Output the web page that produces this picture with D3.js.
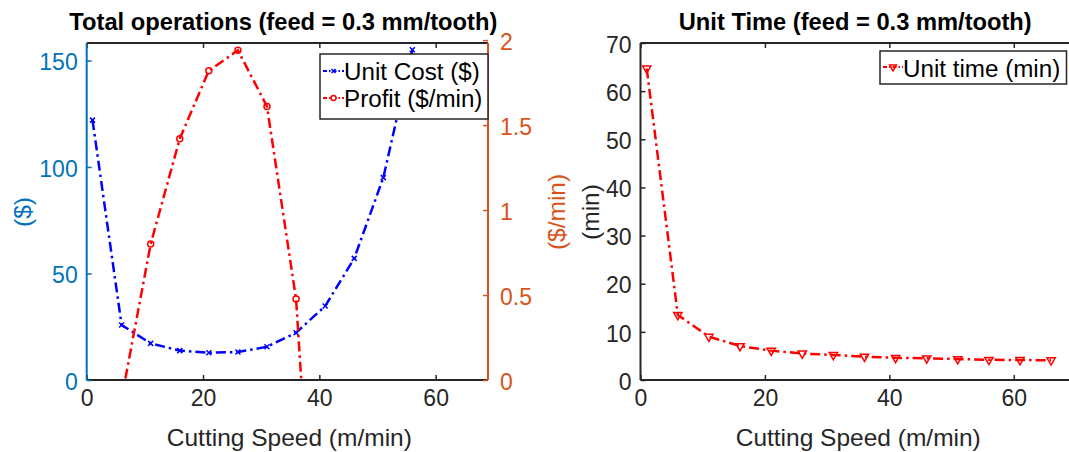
<!DOCTYPE html>
<html><head><meta charset="utf-8">
<script src="https://cdn.jsdelivr.net/npm/d3@7"></script>
<style>
body{margin:0;background:#fff;}
text{font-family:"Liberation Sans",Arial,sans-serif;}
</style></head>
<body>
<svg id="c" width="1069" height="452"></svg>
<script>
// ---------- data ----------
const costSpeed = [1, 6, 11, 16, 21, 26, 31, 36, 41, 46, 51, 56];
const unitCost  = [122, 25.8, 17.2, 13.8, 12.8, 13.1, 15.6, 22.2, 34.7, 57.1, 95, 155];
const profitSpeed = [6, 11, 16, 21, 26, 31, 36, 41];
const profit      = [-0.11, 0.80, 1.42, 1.82, 1.94, 1.61, 0.476, -2.2];
const timeSpeed = [1, 6, 11, 16, 21, 26, 31, 36, 41, 46, 51, 56, 61, 66];
const unitTime  = [64.7, 13.5, 9.0, 7.05, 6.1, 5.5, 5.2, 4.85, 4.6, 4.5, 4.35, 4.2, 4.15, 4.1];
const xTicks = [0, 20, 40, 60];
const costTicks = [0, 50, 100, 150];
const profitTicks = [0, 0.5, 1, 1.5, 2];
const profitTickLabels = ["0", "0.5", "1", "1.5", "2"];
const timeTicks = [0, 10, 20, 30, 40, 50, 60, 70];
const title1 = "Total operations (feed = 0.3 mm/tooth)";
const title2 = "Unit Time (feed = 0.3 mm/tooth)";
const xLabel = "Cutting Speed (m/min)";

// ---------- style ----------
const BLUEAX = "#0072BD", ORANGE = "#D95319", DARK = "#262626";
const TICKFS = 23, LABFS = 24.5, TITLEFS = 23.7, LEGFS = 24.2;
const DASH = "10,4,2.5,4";

const svg = d3.select("#c");
const defs = svg.append("defs");

// ---------- panel 1 ----------
const L1 = {x0: 86.7, x1: 488, y0: 43, y1: 380};
const x1s = d3.scaleLinear().domain([0, 69]).range([L1.x0, L1.x1]);
const yC = d3.scaleLinear().domain([0, 158.2]).range([L1.y1, L1.y0]);
const yP = d3.scaleLinear().domain([0, 1.983]).range([L1.y1, L1.y0]);

defs.append("clipPath").attr("id", "clip1").append("rect")
  .attr("x", L1.x0).attr("y", L1.y0).attr("width", L1.x1 - L1.x0).attr("height", L1.y1 - L1.y0);

const g1 = svg.append("g");
const bx1 = g1.append("g").attr("transform", `translate(0,${L1.y1})`)
  .call(d3.axisBottom(x1s).tickValues(xTicks).tickSize(-5).tickPadding(10));
const tx1 = g1.append("g").attr("transform", `translate(0,${L1.y0})`)
  .call(d3.axisTop(x1s).tickValues(xTicks).tickSize(-5).tickFormat(""));
const ly1 = g1.append("g").attr("transform", `translate(${L1.x0},0)`)
  .call(d3.axisLeft(yC).tickValues(costTicks).tickSize(-5).tickPadding(9));
const ry1 = g1.append("g").attr("transform", `translate(${L1.x1},0)`)
  .call(d3.axisRight(yP).tickValues(profitTicks).tickSize(-5).tickPadding(12)
    .tickFormat((d, i) => profitTickLabels[i]));

[bx1, tx1].forEach(a => { a.select(".domain").attr("stroke", DARK).attr("stroke-width", 2); a.selectAll(".tick line").attr("stroke", DARK).attr("stroke-width", 1.5); });
bx1.selectAll("text").attr("fill", DARK).attr("font-size", TICKFS);
ly1.select(".domain").attr("stroke", BLUEAX).attr("stroke-width", 2).attr("d", `M0,${L1.y0}V${L1.y1}`);
ly1.selectAll(".tick line").attr("stroke", BLUEAX).attr("stroke-width", 1.5);
ly1.selectAll("text").attr("fill", BLUEAX).attr("font-size", TICKFS).attr("dy", "0.4em");
ry1.select(".domain").attr("stroke", ORANGE).attr("stroke-width", 2).attr("d", `M0,${L1.y0}V${L1.y1}`);
ry1.selectAll(".tick line").attr("stroke", ORANGE).attr("stroke-width", 1.5);
ry1.selectAll("text").attr("fill", ORANGE).attr("font-size", TICKFS).attr("dy", "0.4em");
bx1.select(".domain").attr("d", `M${L1.x0},0H${L1.x1}`);
tx1.select(".domain").attr("d", `M${L1.x0},0H${L1.x1}`);

const pl = g1.append("g").attr("clip-path", "url(#clip1)");
const costLine = d3.line().x((d, i) => x1s(costSpeed[i])).y(d => yC(d));
pl.append("path").datum(unitCost).attr("d", costLine).attr("fill", "none")
  .attr("stroke", "#0000FF").attr("stroke-width", 2.5).attr("stroke-dasharray", DASH);
const xMark = (sel, s) => sel.append("path").attr("d", `M${-s},${-s}L${s},${s}M${-s},${s}L${s},${-s}`)
  .attr("stroke", "#0000FF").attr("stroke-width", 1.5).attr("fill", "none");
unitCost.forEach((v, i) => {
  const g = pl.append("g").attr("transform", `translate(${x1s(costSpeed[i])},${yC(v)})`);
  xMark(g, 2.5);
});
const profLine = d3.line().x((d, i) => x1s(profitSpeed[i])).y(d => yP(d));
pl.append("path").datum(profit).attr("d", profLine).attr("fill", "none")
  .attr("stroke", "#FF0000").attr("stroke-width", 2.5).attr("stroke-dasharray", DASH);
profit.forEach((v, i) => {
  pl.append("circle").attr("cx", x1s(profitSpeed[i])).attr("cy", yP(v)).attr("r", 3)
    .attr("fill", "none").attr("stroke", "#FF0000").attr("stroke-width", 1.5);
});

svg.append("text").attr("x", (L1.x0 + L1.x1) / 2 - 4).attr("y", 30).attr("text-anchor", "middle")
  .attr("font-size", TITLEFS).attr("font-weight", "bold").attr("fill", "#000").text(title1);
svg.append("text").attr("x", (L1.x0 + L1.x1) / 2 + 2).attr("y", 446).attr("text-anchor", "middle")
  .attr("font-size", LABFS).attr("fill", DARK).text(xLabel);
svg.append("text").attr("transform", `translate(31,212) rotate(-90)`).attr("text-anchor", "middle")
  .attr("font-size", LABFS).attr("fill", BLUEAX).text("($)");
svg.append("text").attr("transform", `translate(565,212) rotate(-90)`).attr("text-anchor", "middle")
  .attr("font-size", LABFS).attr("fill", ORANGE).text("($/min)");

const lg1 = svg.append("g");
lg1.append("rect").attr("x", 320).attr("y", 54).attr("width", 168).attr("height", 65)
  .attr("fill", "#fff").attr("stroke", DARK).attr("stroke-width", 1.5);
lg1.append("line").attr("x1", 323).attr("x2", 344).attr("y1", 71).attr("y2", 71)
  .attr("stroke", "#0000FF").attr("stroke-width", 2).attr("stroke-dasharray", "4,2,1.5,2");
xMark(lg1.append("g").attr("transform", "translate(333.5,71)"), 2);
lg1.append("text").attr("x", 344).attr("y", 80).attr("font-size", LEGFS).attr("fill", "#000").text("Unit Cost ($)");
lg1.append("line").attr("x1", 323).attr("x2", 344).attr("y1", 98).attr("y2", 98)
  .attr("stroke", "#FF0000").attr("stroke-width", 2).attr("stroke-dasharray", "4,2,1.5,2");
lg1.append("circle").attr("cx", 333.5).attr("cy", 98).attr("r", 2.5).attr("fill", "#fff")
  .attr("stroke", "#FF0000").attr("stroke-width", 1.5);
lg1.append("text").attr("x", 344).attr("y", 107).attr("font-size", LEGFS).attr("fill", "#000").text("Profit ($/min)");

// ---------- panel 2 ----------
const L2 = {x0: 640.5, x1: 1076, y0: 43, y1: 380};
const x2s = d3.scaleLinear().domain([0, 70]).range([L2.x0, L2.x1]);
const yT = d3.scaleLinear().domain([0, 70]).range([L2.y1, L2.y0]);
defs.append("clipPath").attr("id", "clip2").append("rect")
  .attr("x", L2.x0).attr("y", L2.y0).attr("width", L2.x1 - L2.x0).attr("height", L2.y1 - L2.y0);

const g2 = svg.append("g");
const bx2 = g2.append("g").attr("transform", `translate(0,${L2.y1})`)
  .call(d3.axisBottom(x2s).tickValues(xTicks).tickSize(-5).tickPadding(10));
const tx2 = g2.append("g").attr("transform", `translate(0,${L2.y0})`)
  .call(d3.axisTop(x2s).tickValues(xTicks).tickSize(-5).tickFormat(""));
const ly2 = g2.append("g").attr("transform", `translate(${L2.x0},0)`)
  .call(d3.axisLeft(yT).tickValues(timeTicks).tickSize(-5).tickPadding(9));
[bx2, tx2, ly2].forEach(a => { a.select(".domain").attr("stroke", DARK).attr("stroke-width", 2); a.selectAll(".tick line").attr("stroke", DARK).attr("stroke-width", 1.5); });
bx2.select(".domain").attr("d", `M${L2.x0},0H${L2.x1}`);
tx2.select(".domain").attr("d", `M${L2.x0},0H${L2.x1}`);
ly2.select(".domain").attr("d", `M0,${L2.y0}V${L2.y1}`);
bx2.selectAll("text").attr("fill", DARK).attr("font-size", TICKFS);
ly2.selectAll("text").attr("fill", DARK).attr("font-size", TICKFS).attr("dy", "0.4em");

const pl2 = g2.append("g").attr("clip-path", "url(#clip2)");
const timeLine = d3.line().x((d, i) => x2s(timeSpeed[i])).y(d => yT(d));
pl2.append("path").datum(unitTime).attr("d", timeLine).attr("fill", "none")
  .attr("stroke", "#FF0000").attr("stroke-width", 2.5).attr("stroke-dasharray", DASH);
const tri = d3.symbol().type(d3.symbolTriangle).size(30);
unitTime.forEach((v, i) => {
  pl2.append("path").attr("d", tri()).attr("transform", `translate(${x2s(timeSpeed[i])},${yT(v)}) rotate(180)`)
    .attr("fill", "none").attr("stroke", "#FF0000").attr("stroke-width", 1.5);
});

svg.append("text").attr("x", (L2.x0 + L2.x1) / 2 - 3).attr("y", 30).attr("text-anchor", "middle")
  .attr("font-size", TITLEFS).attr("font-weight", "bold").attr("fill", "#000").text(title2);
svg.append("text").attr("x", (L2.x0 + L2.x1) / 2).attr("y", 446).attr("text-anchor", "middle")
  .attr("font-size", LABFS).attr("fill", DARK).text(xLabel);
svg.append("text").attr("transform", `translate(599,212) rotate(-90)`).attr("text-anchor", "middle")
  .attr("font-size", LABFS).attr("fill", DARK).text("(min)");

const lg2 = svg.append("g");
lg2.append("rect").attr("x", 880).attr("y", 51).attr("width", 186.5).attr("height", 33)
  .attr("fill", "#fff").attr("stroke", DARK).attr("stroke-width", 1.5);
lg2.append("line").attr("x1", 883).attr("x2", 903).attr("y1", 67).attr("y2", 67)
  .attr("stroke", "#FF0000").attr("stroke-width", 2).attr("stroke-dasharray", "4,2,1.5,2");
lg2.append("path").attr("d", d3.symbol().type(d3.symbolTriangle).size(20)())
  .attr("transform", "translate(893,67) rotate(180)").attr("fill", "none")
  .attr("stroke", "#FF0000").attr("stroke-width", 1.5);
lg2.append("text").attr("x", 903).attr("y", 76.5).attr("font-size", LEGFS).attr("fill", "#000").text("Unit time (min)");
</script>
</body></html>
